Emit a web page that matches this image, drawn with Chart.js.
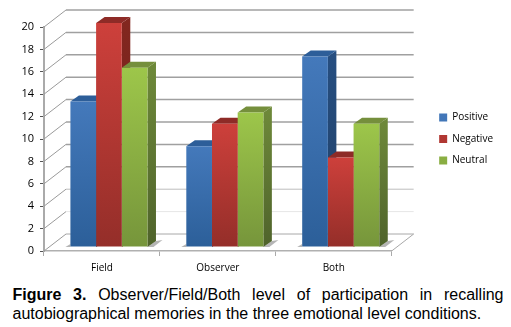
<!DOCTYPE html>
<html><head><meta charset="utf-8">
<style>
html,body{margin:0;padding:0;background:#fff;width:511px;height:327px;overflow:hidden}
#w{position:absolute;left:0;top:0;width:511px;height:280px}
#cap{position:absolute;left:12.5px;top:285px;width:491px;margin:0;font:16px/19px "Liberation Sans",Arial,sans-serif;color:#000;text-align:justify}
</style>
<script src="https://cdn.jsdelivr.net/npm/chart.js@4"></script>
</head><body>
<div id="w"><canvas id="c" width="511" height="280"></canvas></div>
<p id="cap"><b>Figure 3.</b> Observer/Field/Both level of participation in recalling autobiographical memories in the three emotional level conditions.</p>
<script>
const categories = ["Field","Observer","Both"];
const positive = [13,9,17];
const negative = [20,11,8];
const neutral = [16,12,11];
const tickMax = 20, tickStep = 2;

const palette = {
  Positive:{front:["#4479bb","#2c5f99"],side:["#264e80","#203f66"],top:"#2d5e99"},
  Negative:{front:["#cd403b","#942e29"],side:["#82271f","#6f211c"],top:"#8e2b27"},
  Neutral:{front:["#9dc64a","#76953b"],side:["#6d8839","#4f632b"],top:"#758f3c"}
};
const WALL = {dx:22,dy:-17}, BAR = {dx:7,dy:-4}, DEPTH = {dx:8.5,dy:-6};

function frontFill(name){
  return function(ctx){
    const p = palette[name].front, ch = ctx.chart;
    if(ctx.type!=="data" || !ch.chartArea) return p[0];
    const y = ch.scales.y;
    const g = ch.ctx.createLinearGradient(0,y.getPixelForValue(ctx.raw),0,y.getPixelForValue(0));
    g.addColorStop(0,p[0]); g.addColorStop(1,p[1]);
    return g;
  };
}
const walls = {
  id:"walls",
  beforeDatasetsDraw(ch){
    const c = ch.ctx, y = ch.scales.y, a = ch.chartArea;
    c.save();
    y.ticks.forEach(t=>{
      const py = y.getPixelForValue(t.value);
      const shade = t.value===2 ? "#e6e6e6" : t.value===4 ? "#bdbdbd" : t.value===0 ? "#a8a8a8" : "#a0a0a0";
      c.strokeStyle = shade; c.lineWidth = t.value<=4 ? 1 : 1.5;
      c.beginPath(); c.moveTo(a.left+WALL.dx,py+WALL.dy); c.lineTo(a.right+WALL.dx,py+WALL.dy); c.stroke();
      c.strokeStyle = "#9a9a9a"; c.lineWidth = 1;
      c.beginPath(); c.moveTo(a.left,py); c.lineTo(a.left+WALL.dx,py+WALL.dy); c.stroke();
    });
    c.strokeStyle="#a8a8a8"; c.lineWidth=1;
    c.beginPath(); c.moveTo(a.right,a.bottom); c.lineTo(a.right+WALL.dx,a.bottom+WALL.dy); c.stroke();
    c.restore();
    /* floor shadows */
    const last = ch.getDatasetMeta(2), first = ch.getDatasetMeta(0);
    const base = y.getPixelForValue(0)+BAR.dy;
    c.save();
    last.data.forEach((b,i)=>{
      const xr = b.x+b.width/2+BAR.dx, xl = first.data[i].x-first.data[i].width/2+BAR.dx;
      c.fillStyle="rgba(120,120,120,.55)";
      c.beginPath(); c.moveTo(xr,base); c.lineTo(xr+DEPTH.dx,base+DEPTH.dy); c.lineTo(xr+15,base+DEPTH.dy-1); c.lineTo(xr+6,base); c.fill();
      c.beginPath(); c.moveTo(xl,base); c.lineTo(xl,base-3); c.lineTo(xl-5,base); c.fill();
    });
    c.restore();
    c.save(); c.translate(BAR.dx,BAR.dy);
    /* sides and tops of the bars: left to right, all before the fronts */
    ch.data.datasets.forEach((ds,di)=>{
      const pal = palette[ds.label];
      ch.getDatasetMeta(di).data.forEach(b=>{
        const r = b.x+b.width/2, l = b.x-b.width/2, tp = b.y, bt = y.getPixelForValue(0);
        const g = c.createLinearGradient(0,tp,0,bt);
        g.addColorStop(0,pal.side[0]); g.addColorStop(1,pal.side[1]);
        c.fillStyle=g;
        c.beginPath(); c.moveTo(r,tp); c.lineTo(r+DEPTH.dx,tp+DEPTH.dy); c.lineTo(r+DEPTH.dx,bt+DEPTH.dy); c.lineTo(r,bt); c.fill();
        c.fillStyle=pal.top;
        c.beginPath(); c.moveTo(l,tp); c.lineTo(l+DEPTH.dx,tp+DEPTH.dy); c.lineTo(r+DEPTH.dx,tp+DEPTH.dy); c.lineTo(r,tp); c.fill();
      });
    });
  },
  afterDatasetsDraw(ch){ ch.ctx.restore(); }
};
const tickFont = {family:"'Open Sans'",size:10};
new Chart(document.getElementById("c"),{
  type:"bar",
  plugins:[walls],
  data:{labels:categories,datasets:[
    {label:"Positive",data:positive,backgroundColor:frontFill("Positive")},
    {label:"Negative",data:negative,backgroundColor:frontFill("Negative")},
    {label:"Neutral",data:neutral,backgroundColor:frontFill("Neutral")}
  ].map(d=>Object.assign(d,{clip:false,categoryPercentage:0.665,barPercentage:1,borderWidth:0}))},
  options:{
    responsive:false,animation:false,
    layout:{padding:{top:27,right:8,left:0,bottom:0}},
    plugins:{tooltip:{enabled:false},
      legend:{position:"right",fullSize:false,labels:{boxWidth:8,boxHeight:8,padding:11.5,color:"#000",font:tickFont}}},
    scales:{
      x:{grid:{drawOnChartArea:false,color:"#aaa",tickLength:5,offset:true},border:{color:"#b0b0b0",width:1.5},
         ticks:{color:"#000",font:tickFont,padding:6,maxRotation:0},afterFit(s){s.height=29;}},
      y:{min:0,max:tickMax,grid:{drawOnChartArea:false,color:"#555",tickLength:4},border:{color:"#aaa",width:2},
         ticks:{stepSize:tickStep,color:"#000",font:{family:"'Open Sans'",size:11},padding:6},afterFit(s){s.width=44;}},
      spacer:{type:"linear",position:"right",display:true,grid:{display:false},border:{display:false},
         ticks:{display:false},afterFit(s){s.width=36;}}
    }
  }
});
</script>
</body></html>
